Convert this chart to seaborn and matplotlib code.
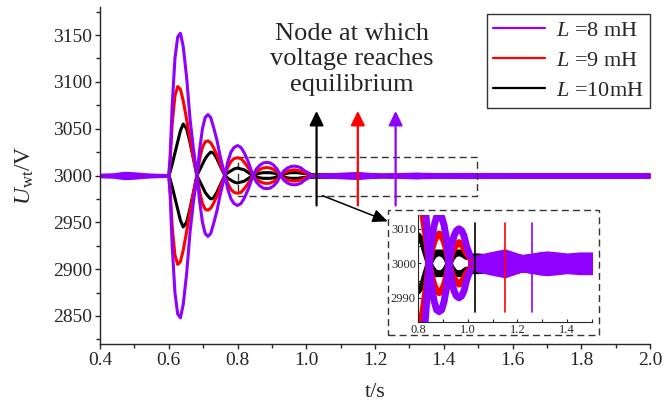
import numpy as np
import pandas as pd
import matplotlib
matplotlib.use("Agg")
import matplotlib.pyplot as plt
import seaborn as sns
from matplotlib.patches import Rectangle, FancyArrowPatch
from matplotlib.lines import Line2D
from matplotlib.ticker import MultipleLocator

# ---------------- data ----------------
series = ["L=8 mH", "L=9 mH", "L=10 mH"]
labels = ["$L$ =8 mH", "$L$ =9 mH", "$L$ =10mH"]
colors = ["#8f00ff", "#ff0000", "#000000"]

# envelope of the decaying oscillation lobes (time in s, half-amplitude in V)
t_lobes = [0.600, 0.604, 0.610, 0.618, 0.626, 0.634, 0.642, 0.652, 0.662, 0.672, 0.682,
           0.690, 0.698, 0.706, 0.714, 0.722, 0.730, 0.740, 0.750, 0.763,
           0.772, 0.781, 0.790, 0.800, 0.810, 0.820, 0.832, 0.845,
           0.855, 0.865, 0.875, 0.885, 0.895, 0.905, 0.915, 0.925,
           0.935, 0.945, 0.955, 0.965, 0.975, 0.985, 0.995, 1.010]
amp_8mH = [0, 20, 75, 125, 148, 152, 138, 105, 60, 28, 0,
           28, 50, 62, 65, 62, 52, 38, 20, 0,
           15, 25, 30, 32, 30, 24, 14, 0,
           7, 11, 13.5, 14, 13.5, 11, 7, 0,
           5, 8, 9.5, 10, 9.5, 8, 5, 2]
amp_9mH = [0, 15, 55, 85, 95, 92, 80, 60, 38, 18, 0,
           18, 30, 36, 37, 35, 30, 22, 12, 0,
           9, 15, 18, 19, 18, 14, 8, 0,
           4, 6.5, 8, 8.5, 8, 6.5, 4, 0,
           3, 4.5, 5.5, 6, 5.5, 4.5, 3, 1.5]
amp_10mH = [0, 4, 12, 24, 36, 48, 55, 50, 35, 18, 0,
            6, 12, 18, 22, 25, 24, 18, 10, 0,
            3, 5, 7, 8, 7, 6, 3, 0,
            1.5, 2.5, 3, 3, 3, 2.5, 1.5, 0,
            1.5, 2.5, 3, 3, 3, 2.5, 2, 2]

# thick band of the steady ripple before the disturbance and after settling
t_pre = [0.40, 0.44, 0.47, 0.50, 0.53, 0.56, 0.60]
band_pre = [2.5, 3.0, 4.5, 4.0, 3.0, 2.5, 2.0]
t_steady = [1.00, 1.04, 1.08, 1.12, 1.15, 1.18, 1.22, 1.26, 1.29, 1.32, 1.35, 1.40, 1.45, 1.50, 1.60, 1.80, 2.00]
band_8mH = [1.5, 2.5, 3.2, 3.8, 4.2, 3.5, 2.5, 3.0, 3.4, 3.6, 3.4, 3.0, 3.3, 3.3, 3.0, 3.0, 3.0]
band_9mH = [2.0, 2.5, 3.0, 3.5, 3.8, 3.0, 2.5, 2.8, 3.0, 3.2, 3.0, 2.8, 3.0, 3.0, 2.8, 2.8, 2.8]
band_10mH = [3.0, 3.0, 2.8, 3.2, 3.5, 3.0, 2.6, 2.8, 3.0, 3.4, 3.0, 2.8, 3.0, 3.0, 2.8, 2.8, 2.8]

# time at which each voltage reaches equilibrium (s)
settle_t = [1.26, 1.15, 1.03]

U0 = 3000

amps = [amp_8mH, amp_9mH, amp_10mH]
bands = [band_8mH, band_9mH, band_10mH]
rows = []
for s, a in zip(series, amps):
    for t, v in zip(t_lobes, a):
        rows.append({"t": t, "upper": U0 + v, "lower": U0 - v, "series": s})
df = pd.DataFrame(rows)

# ---------------- style ----------------
sns.set_style("ticks")
plt.rcParams["font.family"] = ["Liberation Serif", "DejaVu Serif"]
plt.rcParams["mathtext.fontset"] = "custom"
plt.rcParams["mathtext.rm"] = "Liberation Serif"
plt.rcParams["mathtext.it"] = "Liberation Serif:italic"
plt.rcParams["axes.linewidth"] = 1.0

pal = dict(zip(series, colors))
draw_order = series[::-1]  # black first, purple on top

fig = plt.figure(figsize=(6.68, 4.12), dpi=100)
ax = fig.add_axes([100 / 668, (412 - 344) / 412, 550 / 668, 337 / 412])


def draw(axis, lw):
    for s in draw_order:
        sub = df[df.series == s]
        for col in ("upper", "lower"):
            sns.lineplot(data=sub, x="t", y=col, color=pal[s], lw=lw, ax=axis,
                         estimator=None, sort=False, legend=False)
    for s in draw_order:
        i = series.index(s)
        b = np.array(bands[i])
        axis.fill_between(t_steady, U0 - b, U0 + b, color=pal[s], lw=0)
    bp = np.array(band_pre)
    axis.fill_between(t_pre, U0 - bp, U0 + bp, color=colors[0], lw=0)


draw(ax, 2.2)
ax.set_xlim(0.4, 2.0)
ax.set_ylim(2820, 3180)
ax.xaxis.set_major_locator(MultipleLocator(0.2))
ax.xaxis.set_minor_locator(MultipleLocator(0.1))
ax.yaxis.set_major_locator(MultipleLocator(50))
ax.yaxis.set_minor_locator(MultipleLocator(25))
ax.set_yticks([2850, 2900, 2950, 3000, 3050, 3100, 3150])
ax.tick_params(which="major", direction="out", length=3.5, width=1, labelsize=14, pad=2)
ax.tick_params(which="minor", direction="out", length=3, width=1)
ax.xaxis.set_major_formatter(matplotlib.ticker.FormatStrFormatter("%.1f"))
sns.despine(ax=ax)
ax.set_xlabel("t/s", fontsize=16)
ax.set_ylabel("$U_{\\rm wt}$/V", fontsize=17)
ax.xaxis.label.set_va("center")
ax.yaxis.label.set_va("center")
ax.xaxis.set_label_coords(0.5, -0.145)
ax.yaxis.set_label_coords(-0.136, 0.5)

# arrows marking equilibrium
for t, c in zip(settle_t, colors):
    ax.annotate("", xy=(t, 3069), xytext=(t, 2968),
                arrowprops=dict(arrowstyle="-|>,head_width=0.42,head_length=0.86",
                                color=c, lw=1.6, mutation_scale=10, shrinkA=0, shrinkB=0))
ax.text(1.132, 3124, "Node at which\nvoltage reaches\nequilibrium", ha="center", va="center",
        fontsize=19, linespacing=1.2)

# dashed zoom rectangle
ax.add_patch(Rectangle((0.8, 2978.5), 0.696, 41.5, fill=False, ls=(0, (5, 3)), lw=1, ec="#333333"))
ax.annotate("", xy=(1.237, 2951), xytext=(1.047, 2978.5),
            arrowprops=dict(arrowstyle="-|>,head_width=0.4,head_length=0.9",
                            color="black", lw=1.1, mutation_scale=10, shrinkA=0, shrinkB=0))

# legend
handles = [Line2D([], [], color=c, lw=1.6) for c in colors]
leg = ax.legend(handles, labels, loc="upper right", bbox_to_anchor=(650 / 668, 398 / 412),
                bbox_transform=fig.transFigure, fontsize=16, frameon=True, fancybox=False,
                edgecolor="black", handlelength=2.3, handletextpad=0.5, labelspacing=0.42,
                borderpad=0.3, borderaxespad=0)
leg.get_frame().set_linewidth(1.0)

# inset frame (dashed) and inset axes
fig.patches.append(Rectangle((388 / 668, (412 - 335) / 412), 211 / 668, 125 / 412,
                             transform=fig.transFigure, fill=True, fc="white", ec="#333333",
                             ls=(0, (5, 3)), lw=1, zorder=3))
axin = fig.add_axes([418 / 668, (412 - 322) / 412, 174 / 668, 107 / 412], zorder=5)
draw(axin, 5.0)
for t, c in zip(settle_t, colors):
    axin.plot([t, t], [2985.8, 3011.6], color=c, lw=1.2)
axin.set_xlim(0.8, 1.5)
axin.set_ylim(2983, 3014)
axin.set_xticks([0.8, 1.0, 1.2, 1.4])
axin.xaxis.set_minor_locator(MultipleLocator(0.1))
axin.set_yticks([2990, 3000, 3010])
axin.yaxis.set_minor_locator(MultipleLocator(5))
axin.xaxis.set_major_formatter(matplotlib.ticker.FormatStrFormatter("%.1f"))
axin.tick_params(which="both", direction="in", labelsize=9, pad=1.5, length=2.5, width=0.8)
axin.set_xlabel("")
axin.set_ylabel("")
sns.despine(ax=axin)
for sp in axin.spines.values():
    sp.set_linewidth(0.8)

fig.savefig("out.png", dpi=100)
